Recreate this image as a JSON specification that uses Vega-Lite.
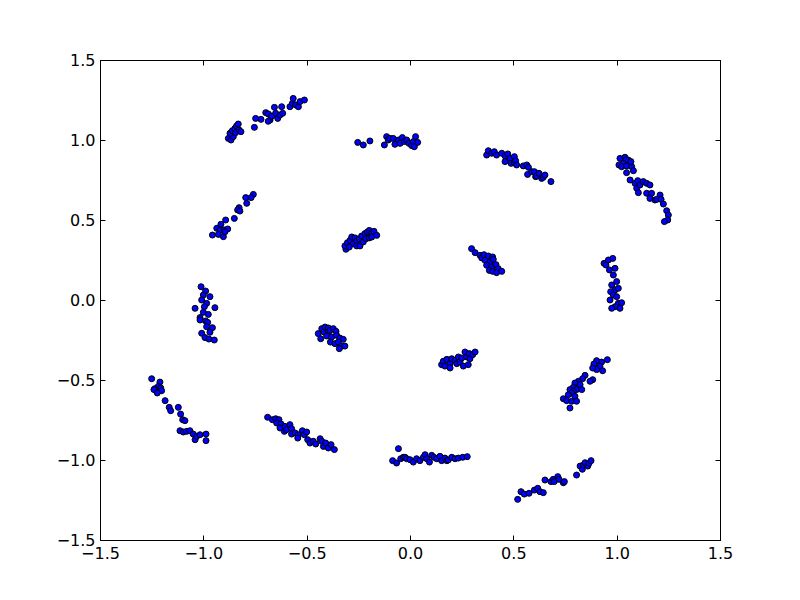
{
  "$schema": "https://vega.github.io/schema/vega-lite/v6.json",
  "width": 620,
  "height": 480,
  "autosize": {"type": "none"},
  "padding": {"left": 100, "top": 60, "right": 80, "bottom": 60},
  "background": "white",
  "config": {
    "view": {"stroke": "black", "strokeWidth": 1},
    "axis": {
      "grid": false,
      "domainColor": "black",
      "tickColor": "black",
      "labelColor": "black",
      "labelFont": "DejaVu Sans",
      "labelFontSize": 16,
      "tickSize": -5,
      "labelPadding": 10,
      "labelFlush": false,
      "labelOverlap": false,
      "labelBound": false,
      "title": null
    }
  },
  "data": {"values": [
    {"x": -0.879, "y": 1.010}, {"x": -0.866, "y": 1.000}, {"x": -0.855, "y": 1.021}, {"x": -0.871, "y": 1.042}, {"x": -0.860, "y": 1.058}, {"x": -0.847, "y": 1.073}, {"x": -0.839, "y": 1.088}, {"x": -0.831, "y": 1.100}, {"x": -0.844, "y": 1.046}, {"x": -0.827, "y": 1.063}, {"x": -0.818, "y": 1.052}, {"x": -0.753, "y": 1.079}, {"x": -0.747, "y": 1.135}, {"x": -0.721, "y": 1.129}, {"x": -0.698, "y": 1.171}, {"x": -0.686, "y": 1.163}, {"x": -0.677, "y": 1.125}, {"x": -0.669, "y": 1.150}, {"x": -0.656, "y": 1.204}, {"x": -0.650, "y": 1.167}, {"x": -0.640, "y": 1.135}, {"x": -0.629, "y": 1.156}, {"x": -0.621, "y": 1.208}, {"x": -0.616, "y": 1.167}, {"x": -0.581, "y": 1.208}, {"x": -0.569, "y": 1.229}, {"x": -0.565, "y": 1.260}, {"x": -0.553, "y": 1.219}, {"x": -0.540, "y": 1.208}, {"x": -0.532, "y": 1.240}, {"x": -0.511, "y": 1.250}, {"x": -0.686, "y": 1.117},
    {"x": -0.253, "y": 0.985}, {"x": -0.226, "y": 0.969}, {"x": -0.194, "y": 0.994}, {"x": -0.124, "y": 0.969}, {"x": -0.113, "y": 1.021}, {"x": -0.105, "y": 1.000}, {"x": -0.097, "y": 1.010}, {"x": -0.081, "y": 1.010}, {"x": -0.073, "y": 0.973}, {"x": -0.056, "y": 1.000}, {"x": -0.048, "y": 0.979}, {"x": -0.037, "y": 1.015}, {"x": -0.027, "y": 0.990}, {"x": -0.016, "y": 1.000}, {"x": -0.005, "y": 0.979}, {"x": 0.008, "y": 0.965}, {"x": 0.016, "y": 0.990}, {"x": 0.027, "y": 1.021}, {"x": 0.037, "y": 0.985}, {"x": 0.021, "y": 0.958},
    {"x": 0.371, "y": 0.906}, {"x": 0.379, "y": 0.933}, {"x": 0.395, "y": 0.917}, {"x": 0.408, "y": 0.927}, {"x": 0.419, "y": 0.906}, {"x": 0.444, "y": 0.917}, {"x": 0.460, "y": 0.900}, {"x": 0.473, "y": 0.913}, {"x": 0.484, "y": 0.885}, {"x": 0.460, "y": 0.865}, {"x": 0.489, "y": 0.854}, {"x": 0.505, "y": 0.896}, {"x": 0.505, "y": 0.858}, {"x": 0.511, "y": 0.871}, {"x": 0.516, "y": 0.844}, {"x": 0.548, "y": 0.838}, {"x": 0.565, "y": 0.844}, {"x": 0.573, "y": 0.829}, {"x": 0.569, "y": 0.785}, {"x": 0.589, "y": 0.802}, {"x": 0.602, "y": 0.802}, {"x": 0.608, "y": 0.771}, {"x": 0.613, "y": 0.775}, {"x": 0.624, "y": 0.792}, {"x": 0.637, "y": 0.760}, {"x": 0.645, "y": 0.767}, {"x": 0.653, "y": 0.781}, {"x": 0.682, "y": 0.740},
    {"x": 1.016, "y": 0.885}, {"x": 1.040, "y": 0.892}, {"x": 1.056, "y": 0.875}, {"x": 1.044, "y": 0.875}, {"x": 1.032, "y": 0.854}, {"x": 1.011, "y": 0.844}, {"x": 1.024, "y": 0.833}, {"x": 1.048, "y": 0.838}, {"x": 1.073, "y": 0.833}, {"x": 1.069, "y": 0.865}, {"x": 1.081, "y": 0.808}, {"x": 1.048, "y": 0.796}, {"x": 1.065, "y": 0.750}, {"x": 1.089, "y": 0.729}, {"x": 1.102, "y": 0.746}, {"x": 1.097, "y": 0.698}, {"x": 1.105, "y": 0.671}, {"x": 1.113, "y": 0.719}, {"x": 1.129, "y": 0.740}, {"x": 1.145, "y": 0.729}, {"x": 1.161, "y": 0.719}, {"x": 1.145, "y": 0.667}, {"x": 1.161, "y": 0.635}, {"x": 1.169, "y": 0.667}, {"x": 1.185, "y": 0.625}, {"x": 1.210, "y": 0.656}, {"x": 1.194, "y": 0.629}, {"x": 1.215, "y": 0.629}, {"x": 1.226, "y": 0.600}, {"x": 1.242, "y": 0.558}, {"x": 1.250, "y": 0.531}, {"x": 1.247, "y": 0.500}, {"x": 1.231, "y": 0.490},
    {"x": 0.939, "y": 0.229}, {"x": 0.960, "y": 0.250}, {"x": 0.981, "y": 0.260}, {"x": 0.948, "y": 0.219}, {"x": 0.965, "y": 0.188}, {"x": 0.992, "y": 0.198}, {"x": 0.984, "y": 0.156}, {"x": 1.000, "y": 0.115}, {"x": 0.976, "y": 0.094}, {"x": 0.992, "y": 0.063}, {"x": 1.008, "y": 0.073}, {"x": 0.971, "y": 0.052}, {"x": 0.984, "y": 0.031}, {"x": 1.000, "y": 0.021}, {"x": 0.968, "y": 0.000}, {"x": 1.008, "y": -0.021}, {"x": 1.024, "y": -0.017}, {"x": 0.992, "y": -0.042}, {"x": 1.016, "y": -0.052}, {"x": 0.976, "y": -0.052},
    {"x": 0.955, "y": -0.373}, {"x": 0.927, "y": -0.388}, {"x": 0.903, "y": -0.379}, {"x": 0.890, "y": -0.400}, {"x": 0.919, "y": -0.415}, {"x": 0.903, "y": -0.435}, {"x": 0.932, "y": -0.442}, {"x": 0.884, "y": -0.425}, {"x": 0.847, "y": -0.471}, {"x": 0.835, "y": -0.492}, {"x": 0.884, "y": -0.498}, {"x": 0.871, "y": -0.508}, {"x": 0.815, "y": -0.508}, {"x": 0.798, "y": -0.519}, {"x": 0.823, "y": -0.529}, {"x": 0.790, "y": -0.546}, {"x": 0.774, "y": -0.560}, {"x": 0.806, "y": -0.560}, {"x": 0.831, "y": -0.560}, {"x": 0.790, "y": -0.571}, {"x": 0.782, "y": -0.581}, {"x": 0.766, "y": -0.592}, {"x": 0.798, "y": -0.602}, {"x": 0.742, "y": -0.617}, {"x": 0.758, "y": -0.629}, {"x": 0.782, "y": -0.633}, {"x": 0.806, "y": -0.633}, {"x": 0.774, "y": -0.675},
    {"x": 0.521, "y": -1.246}, {"x": 0.537, "y": -1.198}, {"x": 0.553, "y": -1.213}, {"x": 0.576, "y": -1.208}, {"x": 0.602, "y": -1.188}, {"x": 0.618, "y": -1.177}, {"x": 0.629, "y": -1.198}, {"x": 0.645, "y": -1.204}, {"x": 0.653, "y": -1.125}, {"x": 0.682, "y": -1.135}, {"x": 0.693, "y": -1.121}, {"x": 0.698, "y": -1.135}, {"x": 0.715, "y": -1.104}, {"x": 0.721, "y": -1.121}, {"x": 0.742, "y": -1.142}, {"x": 0.747, "y": -1.135}, {"x": 0.806, "y": -1.094}, {"x": 0.823, "y": -1.038}, {"x": 0.834, "y": -1.058}, {"x": 0.839, "y": -1.031}, {"x": 0.847, "y": -1.017}, {"x": 0.860, "y": -1.038}, {"x": 0.866, "y": -1.021}, {"x": 0.876, "y": -1.004},
    {"x": -0.056, "y": -0.929}, {"x": -0.084, "y": -1.004}, {"x": -0.065, "y": -1.019}, {"x": -0.045, "y": -0.992}, {"x": -0.032, "y": -0.983}, {"x": -0.024, "y": -0.983}, {"x": -0.016, "y": -0.992}, {"x": 0.000, "y": -0.998}, {"x": 0.016, "y": -1.013}, {"x": 0.032, "y": -0.992}, {"x": 0.048, "y": -1.004}, {"x": 0.065, "y": -0.983}, {"x": 0.073, "y": -0.967}, {"x": 0.081, "y": -0.992}, {"x": 0.094, "y": -1.013}, {"x": 0.105, "y": -0.971}, {"x": 0.116, "y": -0.983}, {"x": 0.129, "y": -0.992}, {"x": 0.145, "y": -0.977}, {"x": 0.153, "y": -1.004}, {"x": 0.169, "y": -0.988}, {"x": 0.178, "y": -1.004}, {"x": 0.185, "y": -1.000}, {"x": 0.202, "y": -0.983}, {"x": 0.218, "y": -0.992}, {"x": 0.234, "y": -0.988}, {"x": 0.255, "y": -0.983}, {"x": 0.277, "y": -0.979},
    {"x": -0.689, "y": -0.733}, {"x": -0.666, "y": -0.748}, {"x": -0.650, "y": -0.742}, {"x": -0.634, "y": -0.748}, {"x": -0.645, "y": -0.769}, {"x": -0.624, "y": -0.775}, {"x": -0.629, "y": -0.800}, {"x": -0.608, "y": -0.821}, {"x": -0.605, "y": -0.790}, {"x": -0.597, "y": -0.810}, {"x": -0.581, "y": -0.779}, {"x": -0.573, "y": -0.804}, {"x": -0.573, "y": -0.838}, {"x": -0.556, "y": -0.831}, {"x": -0.540, "y": -0.842}, {"x": -0.543, "y": -0.863}, {"x": -0.521, "y": -0.817}, {"x": -0.511, "y": -0.842}, {"x": -0.500, "y": -0.825}, {"x": -0.495, "y": -0.873}, {"x": -0.484, "y": -0.894}, {"x": -0.468, "y": -0.883}, {"x": -0.456, "y": -0.900}, {"x": -0.435, "y": -0.867}, {"x": -0.427, "y": -0.883}, {"x": -0.419, "y": -0.915}, {"x": -0.408, "y": -0.894}, {"x": -0.395, "y": -0.925}, {"x": -0.382, "y": -0.904}, {"x": -0.366, "y": -0.935},
    {"x": -1.250, "y": -0.492}, {"x": -1.210, "y": -0.513}, {"x": -1.218, "y": -0.540}, {"x": -1.206, "y": -0.550}, {"x": -1.234, "y": -0.554}, {"x": -1.239, "y": -0.560}, {"x": -1.202, "y": -0.567}, {"x": -1.223, "y": -0.581}, {"x": -1.185, "y": -0.629}, {"x": -1.165, "y": -0.671}, {"x": -1.158, "y": -0.692}, {"x": -1.121, "y": -0.671}, {"x": -1.110, "y": -0.713}, {"x": -1.100, "y": -0.748}, {"x": -1.089, "y": -0.754}, {"x": -1.113, "y": -0.817}, {"x": -1.097, "y": -0.825}, {"x": -1.081, "y": -0.821}, {"x": -1.065, "y": -0.817}, {"x": -1.049, "y": -0.838}, {"x": -1.040, "y": -0.873}, {"x": -1.032, "y": -0.852}, {"x": -1.016, "y": -0.842}, {"x": -0.987, "y": -0.838}, {"x": -0.987, "y": -0.879},
    {"x": -1.011, "y": 0.083}, {"x": -0.989, "y": 0.056}, {"x": -1.000, "y": 0.031}, {"x": -0.968, "y": 0.021}, {"x": -1.008, "y": 0.000}, {"x": -0.984, "y": -0.021}, {"x": -0.995, "y": -0.042}, {"x": -1.040, "y": -0.052}, {"x": -0.944, "y": -0.048}, {"x": -1.000, "y": -0.077}, {"x": -0.976, "y": -0.090}, {"x": -1.016, "y": -0.110}, {"x": -1.016, "y": -0.125}, {"x": -0.989, "y": -0.131}, {"x": -0.979, "y": -0.140}, {"x": -0.956, "y": -0.173}, {"x": -0.984, "y": -0.167}, {"x": -1.008, "y": -0.208}, {"x": -0.968, "y": -0.202}, {"x": -0.992, "y": -0.235}, {"x": -0.973, "y": -0.244}, {"x": -0.947, "y": -0.250},
    {"x": -0.758, "y": 0.660}, {"x": -0.769, "y": 0.640}, {"x": -0.795, "y": 0.640}, {"x": -0.790, "y": 0.604}, {"x": -0.827, "y": 0.577}, {"x": -0.834, "y": 0.563}, {"x": -0.823, "y": 0.556}, {"x": -0.850, "y": 0.510}, {"x": -0.892, "y": 0.500}, {"x": -0.915, "y": 0.473}, {"x": -0.935, "y": 0.448}, {"x": -0.919, "y": 0.438}, {"x": -0.898, "y": 0.438}, {"x": -0.882, "y": 0.444}, {"x": -0.956, "y": 0.406}, {"x": -0.927, "y": 0.410}, {"x": -0.903, "y": 0.396}, {"x": -0.895, "y": 0.427},
    {"x": -0.310, "y": 0.317}, {"x": -0.315, "y": 0.338}, {"x": -0.303, "y": 0.358}, {"x": -0.290, "y": 0.373}, {"x": -0.282, "y": 0.394}, {"x": -0.274, "y": 0.352}, {"x": -0.266, "y": 0.388}, {"x": -0.258, "y": 0.367}, {"x": -0.258, "y": 0.338}, {"x": -0.294, "y": 0.331}, {"x": -0.245, "y": 0.383}, {"x": -0.242, "y": 0.338}, {"x": -0.234, "y": 0.400}, {"x": -0.226, "y": 0.363}, {"x": -0.218, "y": 0.415}, {"x": -0.213, "y": 0.383}, {"x": -0.206, "y": 0.425}, {"x": -0.197, "y": 0.435}, {"x": -0.197, "y": 0.388}, {"x": -0.185, "y": 0.421}, {"x": -0.185, "y": 0.394}, {"x": -0.174, "y": 0.429}, {"x": -0.161, "y": 0.404},
    {"x": 0.298, "y": 0.321}, {"x": 0.315, "y": 0.296}, {"x": 0.339, "y": 0.279}, {"x": 0.347, "y": 0.263}, {"x": 0.358, "y": 0.283}, {"x": 0.379, "y": 0.275}, {"x": 0.400, "y": 0.269}, {"x": 0.363, "y": 0.248}, {"x": 0.387, "y": 0.238}, {"x": 0.403, "y": 0.254}, {"x": 0.371, "y": 0.217}, {"x": 0.395, "y": 0.206}, {"x": 0.416, "y": 0.221}, {"x": 0.427, "y": 0.196}, {"x": 0.384, "y": 0.185}, {"x": 0.400, "y": 0.179}, {"x": 0.419, "y": 0.171}, {"x": 0.444, "y": 0.179},
    {"x": -0.444, "y": -0.210}, {"x": -0.427, "y": -0.179}, {"x": -0.416, "y": -0.200}, {"x": -0.411, "y": -0.169}, {"x": -0.395, "y": -0.175}, {"x": -0.395, "y": -0.200}, {"x": -0.387, "y": -0.190}, {"x": -0.371, "y": -0.179}, {"x": -0.358, "y": -0.196}, {"x": -0.432, "y": -0.242}, {"x": -0.403, "y": -0.225}, {"x": -0.379, "y": -0.231}, {"x": -0.355, "y": -0.221}, {"x": -0.339, "y": -0.238}, {"x": -0.323, "y": -0.246}, {"x": -0.385, "y": -0.263}, {"x": -0.363, "y": -0.273}, {"x": -0.347, "y": -0.263}, {"x": -0.331, "y": -0.288}, {"x": -0.315, "y": -0.288}, {"x": -0.342, "y": -0.304},
    {"x": 0.153, "y": -0.404}, {"x": 0.161, "y": -0.383}, {"x": 0.178, "y": -0.371}, {"x": 0.169, "y": -0.413}, {"x": 0.194, "y": -0.398}, {"x": 0.194, "y": -0.425}, {"x": 0.202, "y": -0.367}, {"x": 0.218, "y": -0.377}, {"x": 0.226, "y": -0.398}, {"x": 0.234, "y": -0.356}, {"x": 0.242, "y": -0.388}, {"x": 0.250, "y": -0.363}, {"x": 0.258, "y": -0.413}, {"x": 0.266, "y": -0.325}, {"x": 0.274, "y": -0.356}, {"x": 0.282, "y": -0.404}, {"x": 0.287, "y": -0.335}, {"x": 0.290, "y": -0.367}, {"x": 0.303, "y": -0.342}, {"x": 0.315, "y": -0.325}
  ]},
  "layer": [
    {
      "mark": {"type": "point", "shape": "circle", "filled": true, "fill": "#0000ff", "stroke": "black", "strokeWidth": 1, "opacity": 1, "size": 36},
      "encoding": {
        "x": {"field": "x", "type": "quantitative", "scale": {"domain": [-1.5, 1.5], "nice": false, "zero": false}, "axis": {"orient": "bottom", "values": [-1.5, -1.0, -0.5, 0.0, 0.5, 1.0, 1.5], "format": ".1f"}},
        "y": {"field": "y", "type": "quantitative", "scale": {"domain": [-1.5, 1.5], "nice": false, "zero": false}, "axis": {"orient": "left", "values": [-1.5, -1.0, -0.5, 0.0, 0.5, 1.0, 1.5], "format": ".1f"}}
      }
    },
    {
      "mark": {"type": "point", "opacity": 0},
      "encoding": {
        "x": {"field": "x", "type": "quantitative", "axis": {"orient": "top", "values": [-1.5, -1.0, -0.5, 0.0, 0.5, 1.0, 1.5], "labels": false}},
        "y": {"field": "y", "type": "quantitative", "axis": {"orient": "right", "values": [-1.5, -1.0, -0.5, 0.0, 0.5, 1.0, 1.5], "labels": false}}
      }
    }
  ],
  "resolve": {"axis": {"x": "independent", "y": "independent"}}
}
